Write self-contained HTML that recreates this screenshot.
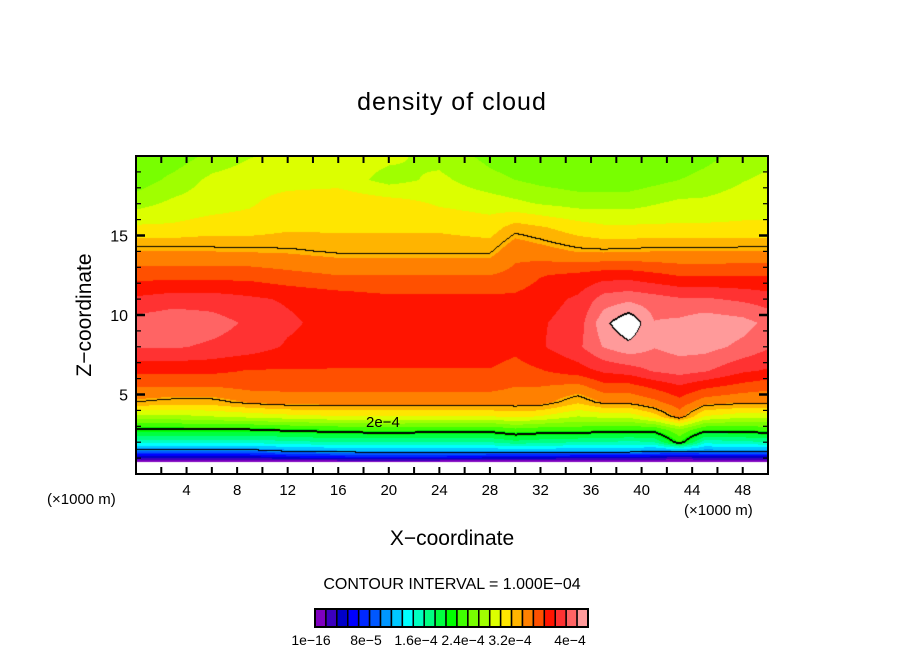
<!DOCTYPE html>
<html><head><meta charset="utf-8">
<style>
body{margin:0;background:#fff;}
#root{position:relative;width:904px;height:654px;overflow:hidden;font-family:"Liberation Sans",sans-serif;color:#000;}
.t{position:absolute;white-space:nowrap;}
</style></head>
<body>
<div id="root">
<div class="t" style="left:0;width:904px;text-align:center;top:88px;font-size:25px;letter-spacing:1px;">density of cloud</div>
<canvas id="cv" width="632" height="318" style="position:absolute;left:136px;top:156px;"></canvas>
<svg id="ax" width="904" height="654" style="position:absolute;left:0;top:0;"></svg>
<div class="t" style="left:47px;top:491px;font-size:15px;">(×1000 m)</div>
<div class="t" style="left:684px;top:502px;font-size:15px;">(×1000 m)</div>
<div class="t" style="left:0;width:904px;text-align:center;top:527px;font-size:21px;">X−coordinate</div>
<div class="t" style="left:85px;top:315px;font-size:21px;transform:translate(-50%,-50%) rotate(-90deg);">Z−coordinate</div>
<div class="t" style="left:0;width:904px;text-align:center;top:576px;font-size:16px;">CONTOUR INTERVAL = 1.000E−04</div>
<div class="t" style="left:366px;top:414px;font-size:15px;">2e−4</div>
</div>
<script>
const xs=[0,3,6,9,12,16,20,24,28,30,32,35,37,39,41,43,45,48,50];
const zs=[0.6,0.8,1.0,1.4,2.0,2.8,3.6,4.5,5.5,6.5,8,9.5,11,12.5,14,15.5,17,18.5,20];
// values in units of 1e-5
const r06=[-3,-3,-3,-3,-3,-3,-3,-3,-3,-3,-3,-3,-3,-3,-3,-3,-3,-3,-3];
const r08=[0.5,0.5,0.5,0.5,0.5,0.5,0.5,0.5,0.5,0.5,0.5,0.5,0.5,0.5,0.5,0.3,0.5,0.5,0.5];
const r10=[3,3,3,3,4,5,5,5,4,4,4,3,3,3,3,2,3,3,3];
const r14=[9,9,9,9,10,10.5,11,11,11,11,11,11,11,11,10,10,10,10,10];
const r20=[15,15,15,15,15.5,16,16,16,16,17,16.5,16,16,15.5,16,21,15,15.5,16];
const r28=[20,20,20,20,20.5,21,21.5,21,21,22,21.5,21.5,21,21,21,24,21,21,21.5];
const r36=[25,25,25.5,26,26.5,27,27,27,27,27.5,27,25.5,26,26,28,31,27,26,26];
const r45=[30,29.5,29.5,30.5,31,31,31,31,31,31,31,29,30.5,30.5,31.5,33,31,30.5,30.5];
const r55=[32,32,32,32.5,32.5,32.5,32.5,32.5,32.5,32,32,31.5,33,33,34,35,34,33,32.5];
const r65=[34,34,34,33.5,33.5,33.5,33.5,33.5,33.5,33,33.5,34.5,35.5,36,37,37.5,37,35.5,35];
const r80=[37,37,36.5,36,35,34.5,34.5,34.5,34.5,34,35,36.5,38.5,39.5,38.5,39,39,38,37];
const r95=[37.5,38,37.5,36.5,35.5,34.5,34.5,34.5,34.5,34.5,35,36,39.5,41.5,38.5,38.8,39.5,39,38];
const r110=[35.5,36,36,35.5,35,34.5,34,34,34,34,34.5,35.5,37.5,38,37.5,37,37,36.5,36];
const r125=[33,33,33,33,32.5,32,32,32,32,32.5,33.5,34,34.5,34.5,34,33.5,33.5,33.5,33.5];
const r140=[30.5,30.5,30.4,30.3,30.2,29.8,29.8,29.8,29.8,31.5,31,30.3,30.2,30.3,30.4,30.4,30.4,30.5,30.5];
const r155=[27.5,27.5,28,28,28.5,28.5,28.5,28.5,28,29.5,29,28,27.5,27.5,27.5,27.5,27.5,27.5,27.5];
const r170=[25,26,26.5,27,28,28.5,28,27,26.5,26,25.5,25,25,25,25.5,26,26,26.5,26.5];
const r185=[23,24.5,26,26.5,26.5,26.5,25,26,24.5,24,23.5,23,23,23,23.5,24,24.5,25.5,26];
const r200=[22.5,23,24.5,25.5,26,26.5,26,25,23.5,23,22.5,22.5,22.5,22.5,22.5,23,23.5,24.5,25];
const rows=[r06,r08,r10,r14,r20,r28,r36,r45,r55,r65,r80,r95,r110,r125,r140,r155,r170,r185,r200];
const colors=["#7f00bf","#3c00bf","#0000c8","#0000ff","#0028ff","#0058ff","#0096ff","#00c8ff","#00ffff","#00ffc0","#00ff82","#00ff40","#00ff00","#40ff00","#78ff00","#a0ff00","#dcff00","#ffe600","#ffb400","#ff8000","#ff5000","#ff1400","#ff3232","#ff6464","#ff9a9a"];
const cbLabels=["1e−16","8e−5","1.6e−4","2.4e−4","3.2e−4","4e−4"];
const xTicks=[4,8,12,16,20,24,28,32,36,40,44,48];
const yTicks=[5,10,15];
const contourLevels=[10,20,30,40];

const PX=136,PY=156,PW=632,PH=318,XMAX=50,ZMAX=20;
const sx=x=>PX+x/XMAX*PW, sy=z=>PY+PH-z/ZMAX*PH;
function seg(a,v){let i=0;while(i<a.length-2&&v>a[i+1])i++;let t=(v-a[i])/(a[i+1]-a[i]);t=Math.max(0,Math.min(1,t));return [i,t];}
function val(x,z){const [i,tx]=seg(xs,x);const [j,tz]=seg(zs,z);
 const a=rows[j][i],b=rows[j][i+1],c=rows[j+1][i],d=rows[j+1][i+1];
 return (a*(1-tx)+b*tx)*(1-tz)+(c*(1-tx)+d*tx)*tz;}
const cv=document.getElementById('cv'),ctx=cv.getContext('2d');
const img=ctx.createImageData(PW,PH);const V=new Float32Array(PW*PH);
for(let py=0;py<PH;py++)for(let px=0;px<PW;px++){V[py*PW+px]=val((px+0.5)/PW*XMAX,(PH-py-0.5)/PH*ZMAX);}
function hex(h){return [parseInt(h.substr(1,2),16),parseInt(h.substr(3,2),16),parseInt(h.substr(5,2),16)];}
const rgb=colors.map(hex);
const lvl=v=>contourLevels.filter(l=>v>=l).length;
for(let py=0;py<PH;py++)for(let px=0;px<PW;px++){
 const k=py*PW+px,v=V[k];let c;
 if(v<=0||v>=40)c=[255,255,255];else c=rgb[Math.min(24,Math.floor(v/1.6))];
 const L=lvl(v);let edge=false;
 const nb=[[1,0],[0,1]];
 for(const [dx,dy] of nb){const qx=px+dx,qy=py+dy;if(qx<PW&&qy<PH){const L2=lvl(V[qy*PW+qx]);if(L2!==L)edge=true;}}
 if(!edge&&py>0){const L2=lvl(V[(py-1)*PW+px]);if(L2!==L&&Math.min(L,L2)===1)edge=true;}
 if(!edge&&py>0&&L>=4){const L2=lvl(V[(py-1)*PW+px]);if(L2!==L)edge=true;}
 if(v<=0)edge=false;
 if(edge)c=[0,0,0];
 img.data[k*4]=c[0];img.data[k*4+1]=c[1];img.data[k*4+2]=c[2];img.data[k*4+3]=255;}
ctx.putImageData(img,0,0);

const NS='http://www.w3.org/2000/svg',svg=document.getElementById('ax');
function mk(tag,at,name){const e=document.createElementNS(NS,tag);for(const k in at)e.setAttribute(k,at[k]);
 
 
 svg.appendChild(e);return e;}
mk('rect',{x:PX,y:PY,width:PW,height:PH,fill:'none',stroke:'#000','stroke-width':2},'plot-frame');
for(let x=2;x<XMAX;x+=2){mk('line',{x1:sx(x),x2:sx(x),y1:PY+PH,y2:PY+PH-7,stroke:'#000','stroke-width':2},'x-tick');
 mk('line',{x1:sx(x),x2:sx(x),y1:PY,y2:PY+7,stroke:'#000','stroke-width':2},'x-tick-top');}
for(let z=1;z<ZMAX;z++){const len=(z%5===0)?9:5;
 mk('line',{x1:PX,x2:PX+len,y1:sy(z),y2:sy(z),stroke:'#000','stroke-width':(z%5===0)?2.5:1.2},'y-tick');
 mk('line',{x1:PX+PW,x2:PX+PW-len,y1:sy(z),y2:sy(z),stroke:'#000','stroke-width':(z%5===0)?2.5:1.2},'y-tick-right');}
xTicks.forEach(x=>{const t=mk('text',{x:sx(x),y:495,'text-anchor':'middle','font-size':15,'font-family':'Liberation Sans'},'x-tick-label');t.textContent=x;});
yTicks.forEach(z=>{const t=mk('text',{x:128,y:sy(z)+6,'text-anchor':'end','font-size':16,'font-family':'Liberation Sans'},'y-tick-label');t.textContent=z;});
const CX=315,CW=273,CY=609,CH=18,bw=CW/colors.length;
colors.forEach((c,i)=>{mk('rect',{x:CX+i*bw,y:CY,width:bw,height:CH,fill:c,stroke:'#000','stroke-width':1.5},'colorbar-box');});
mk('rect',{x:CX,y:CY,width:CW,height:CH,fill:'none',stroke:'#000','stroke-width':2},'colorbar-frame');
const lblX=[311,366,416,463,510,570];
cbLabels.forEach((s,i)=>{const t=mk('text',{x:lblX[i],y:645,'text-anchor':'middle','font-size':14,'font-family':'Liberation Sans'},'colorbar-label');t.textContent=s;});
</script>
</body></html>
